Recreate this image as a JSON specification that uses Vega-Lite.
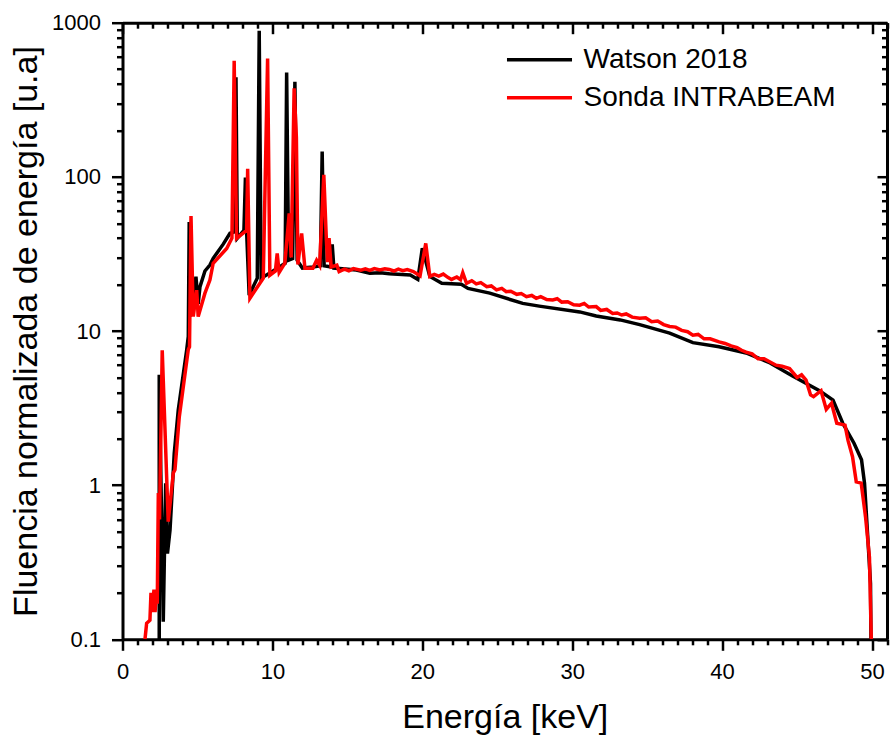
{
  "$schema": "https://vega.github.io/schema/vega-lite/v6.json",
  "autosize": "none",
  "width": 764.5,
  "height": 616.6,
  "padding": {"left": 122.5, "top": 22.7, "right": 6, "bottom": 100.7},
  "background": "white",
  "config": {
    "font": "Liberation Sans",
    "view": {"stroke": null},
    "axis": {
      "grid": false,
      "domainColor": "black",
      "domainWidth": 3,
      "tickColor": "black",
      "tickWidth": 2.5,
      "labelColor": "black",
      "labelFontSize": 22,
      "labelFont": "Liberation Sans",
      "titleFont": "Liberation Sans",
      "titleFontSize": 34,
      "titleFontWeight": "normal",
      "titleColor": "black"
    }
  },
  "datasets": {
    "spec": [
      {"e": 2.45, "f": 0.1, "s": "Watson 2018"},
      {"e": 2.45, "f": 5.2, "s": "Watson 2018"},
      {"e": 2.72, "f": 0.13, "s": "Watson 2018"},
      {"e": 2.88, "f": 1.03, "s": "Watson 2018"},
      {"e": 3.0, "f": 0.36, "s": "Watson 2018"},
      {"e": 3.17, "f": 0.51, "s": "Watson 2018"},
      {"e": 3.45, "f": 1.6, "s": "Watson 2018"},
      {"e": 3.72, "f": 3.07, "s": "Watson 2018"},
      {"e": 4.28, "f": 7.5, "s": "Watson 2018"},
      {"e": 4.39, "f": 9.2, "s": "Watson 2018"},
      {"e": 4.45, "f": 51, "s": "Watson 2018"},
      {"e": 4.5, "f": 12.4, "s": "Watson 2018"},
      {"e": 4.9, "f": 22.5, "s": "Watson 2018"},
      {"e": 5.05, "f": 15, "s": "Watson 2018"},
      {"e": 5.17, "f": 19.4, "s": "Watson 2018"},
      {"e": 5.5, "f": 24.5, "s": "Watson 2018"},
      {"e": 5.83, "f": 26.8, "s": "Watson 2018"},
      {"e": 6.05, "f": 29.6, "s": "Watson 2018"},
      {"e": 6.72, "f": 36.6, "s": "Watson 2018"},
      {"e": 7.17, "f": 43, "s": "Watson 2018"},
      {"e": 7.5, "f": 44, "s": "Watson 2018"},
      {"e": 7.57, "f": 443, "s": "Watson 2018"},
      {"e": 7.66, "f": 40, "s": "Watson 2018"},
      {"e": 8.1, "f": 45, "s": "Watson 2018"},
      {"e": 8.2, "f": 99, "s": "Watson 2018"},
      {"e": 8.28, "f": 44, "s": "Watson 2018"},
      {"e": 8.45, "f": 17.1, "s": "Watson 2018"},
      {"e": 8.99, "f": 22, "s": "Watson 2018"},
      {"e": 9.12, "f": 888, "s": "Watson 2018"},
      {"e": 9.25, "f": 22, "s": "Watson 2018"},
      {"e": 9.83, "f": 23.8, "s": "Watson 2018"},
      {"e": 10.5, "f": 26.1, "s": "Watson 2018"},
      {"e": 10.85, "f": 27.5, "s": "Watson 2018"},
      {"e": 10.95, "f": 475, "s": "Watson 2018"},
      {"e": 11.08, "f": 28.8, "s": "Watson 2018"},
      {"e": 11.35, "f": 29.5, "s": "Watson 2018"},
      {"e": 11.5, "f": 414, "s": "Watson 2018"},
      {"e": 11.65, "f": 28.8, "s": "Watson 2018"},
      {"e": 12.0, "f": 25.6, "s": "Watson 2018"},
      {"e": 12.7, "f": 26, "s": "Watson 2018"},
      {"e": 13.2, "f": 26.5, "s": "Watson 2018"},
      {"e": 13.32, "f": 146, "s": "Watson 2018"},
      {"e": 13.45, "f": 26.5, "s": "Watson 2018"},
      {"e": 13.9, "f": 26, "s": "Watson 2018"},
      {"e": 13.99, "f": 36.5, "s": "Watson 2018"},
      {"e": 14.1, "f": 25.6, "s": "Watson 2018"},
      {"e": 15.6, "f": 24.9, "s": "Watson 2018"},
      {"e": 16.5, "f": 23.7, "s": "Watson 2018"},
      {"e": 17.2, "f": 23.9, "s": "Watson 2018"},
      {"e": 17.8, "f": 23.5, "s": "Watson 2018"},
      {"e": 19.2, "f": 23.1, "s": "Watson 2018"},
      {"e": 19.7, "f": 21.6, "s": "Watson 2018"},
      {"e": 20.0, "f": 34.4, "s": "Watson 2018"},
      {"e": 20.5, "f": 22.6, "s": "Watson 2018"},
      {"e": 21.3, "f": 20.4, "s": "Watson 2018"},
      {"e": 22.6, "f": 20.1, "s": "Watson 2018"},
      {"e": 23.05, "f": 18.9, "s": "Watson 2018"},
      {"e": 24.5, "f": 17.6, "s": "Watson 2018"},
      {"e": 26.7, "f": 15.1, "s": "Watson 2018"},
      {"e": 27.8, "f": 14.5, "s": "Watson 2018"},
      {"e": 30.5, "f": 13.3, "s": "Watson 2018"},
      {"e": 31.6, "f": 12.5, "s": "Watson 2018"},
      {"e": 33.2, "f": 11.8, "s": "Watson 2018"},
      {"e": 34.5, "f": 11.0, "s": "Watson 2018"},
      {"e": 36.5, "f": 9.7, "s": "Watson 2018"},
      {"e": 38.05, "f": 8.4, "s": "Watson 2018"},
      {"e": 39.8, "f": 7.9, "s": "Watson 2018"},
      {"e": 41.6, "f": 7.2, "s": "Watson 2018"},
      {"e": 43.2, "f": 6.2, "s": "Watson 2018"},
      {"e": 44.7, "f": 5.1, "s": "Watson 2018"},
      {"e": 46.5, "f": 4.1, "s": "Watson 2018"},
      {"e": 47.4, "f": 3.56, "s": "Watson 2018"},
      {"e": 48.05, "f": 2.52, "s": "Watson 2018"},
      {"e": 48.8, "f": 1.87, "s": "Watson 2018"},
      {"e": 49.3, "f": 1.46, "s": "Watson 2018"},
      {"e": 49.5, "f": 1.03, "s": "Watson 2018"},
      {"e": 49.7, "f": 0.49, "s": "Watson 2018"},
      {"e": 49.9, "f": 0.23, "s": "Watson 2018"},
      {"e": 49.93, "f": 0.1, "s": "Watson 2018"},

      {"e": 1.5, "f": 0.1, "s": "Sonda INTRABEAM"},
      {"e": 1.61, "f": 0.127, "s": "Sonda INTRABEAM"},
      {"e": 1.83, "f": 0.133, "s": "Sonda INTRABEAM"},
      {"e": 1.9, "f": 0.2, "s": "Sonda INTRABEAM"},
      {"e": 1.97, "f": 0.15, "s": "Sonda INTRABEAM"},
      {"e": 2.1, "f": 0.21, "s": "Sonda INTRABEAM"},
      {"e": 2.17, "f": 0.15, "s": "Sonda INTRABEAM"},
      {"e": 2.28, "f": 0.2, "s": "Sonda INTRABEAM"},
      {"e": 2.32, "f": 0.17, "s": "Sonda INTRABEAM"},
      {"e": 2.39, "f": 0.89, "s": "Sonda INTRABEAM"},
      {"e": 2.47, "f": 0.6, "s": "Sonda INTRABEAM"},
      {"e": 2.65, "f": 7.5, "s": "Sonda INTRABEAM"},
      {"e": 3.05, "f": 0.58, "s": "Sonda INTRABEAM"},
      {"e": 3.39, "f": 1.2, "s": "Sonda INTRABEAM"},
      {"e": 3.5, "f": 1.26, "s": "Sonda INTRABEAM"},
      {"e": 3.79, "f": 2.78, "s": "Sonda INTRABEAM"},
      {"e": 4.39, "f": 7.6, "s": "Sonda INTRABEAM"},
      {"e": 4.47, "f": 7.9, "s": "Sonda INTRABEAM"},
      {"e": 4.57, "f": 55.7, "s": "Sonda INTRABEAM"},
      {"e": 4.72, "f": 12.4, "s": "Sonda INTRABEAM"},
      {"e": 4.95, "f": 18.4, "s": "Sonda INTRABEAM"},
      {"e": 5.05, "f": 12.4, "s": "Sonda INTRABEAM"},
      {"e": 5.5, "f": 17.6, "s": "Sonda INTRABEAM"},
      {"e": 5.83, "f": 21.4, "s": "Sonda INTRABEAM"},
      {"e": 6.05, "f": 27.5, "s": "Sonda INTRABEAM"},
      {"e": 6.95, "f": 34.3, "s": "Sonda INTRABEAM"},
      {"e": 7.3, "f": 40, "s": "Sonda INTRABEAM"},
      {"e": 7.45, "f": 566, "s": "Sonda INTRABEAM"},
      {"e": 7.61, "f": 39.9, "s": "Sonda INTRABEAM"},
      {"e": 8.28, "f": 45, "s": "Sonda INTRABEAM"},
      {"e": 8.35, "f": 113, "s": "Sonda INTRABEAM"},
      {"e": 8.5, "f": 16.3, "s": "Sonda INTRABEAM"},
      {"e": 9.39, "f": 22, "s": "Sonda INTRABEAM"},
      {"e": 9.68, "f": 585, "s": "Sonda INTRABEAM"},
      {"e": 9.83, "f": 23, "s": "Sonda INTRABEAM"},
      {"e": 10.2, "f": 24.5, "s": "Sonda INTRABEAM"},
      {"e": 10.32, "f": 31.9, "s": "Sonda INTRABEAM"},
      {"e": 10.45, "f": 24, "s": "Sonda INTRABEAM"},
      {"e": 10.83, "f": 27.5, "s": "Sonda INTRABEAM"},
      {"e": 11.12, "f": 58, "s": "Sonda INTRABEAM"},
      {"e": 11.25, "f": 30, "s": "Sonda INTRABEAM"},
      {"e": 11.45, "f": 375, "s": "Sonda INTRABEAM"},
      {"e": 11.6, "f": 180, "s": "Sonda INTRABEAM"},
      {"e": 11.7, "f": 27, "s": "Sonda INTRABEAM"},
      {"e": 11.95, "f": 43, "s": "Sonda INTRABEAM"},
      {"e": 12.17, "f": 25.5, "s": "Sonda INTRABEAM"},
      {"e": 12.7, "f": 25.5, "s": "Sonda INTRABEAM"},
      {"e": 12.95, "f": 28.8, "s": "Sonda INTRABEAM"},
      {"e": 13.15, "f": 26.7, "s": "Sonda INTRABEAM"},
      {"e": 13.43, "f": 103, "s": "Sonda INTRABEAM"},
      {"e": 13.6, "f": 39, "s": "Sonda INTRABEAM"},
      {"e": 13.68, "f": 28, "s": "Sonda INTRABEAM"},
      {"e": 13.78, "f": 40, "s": "Sonda INTRABEAM"},
      {"e": 13.92, "f": 26, "s": "Sonda INTRABEAM"},
      {"e": 14.3, "f": 26.7, "s": "Sonda INTRABEAM"},
      {"e": 14.45, "f": 24.3, "s": "Sonda INTRABEAM"},
      {"e": 14.8, "f": 25.2, "s": "Sonda INTRABEAM"},
      {"e": 15.1, "f": 24.6, "s": "Sonda INTRABEAM"},
      {"e": 15.4, "f": 25.4, "s": "Sonda INTRABEAM"},
      {"e": 15.9, "f": 24.8, "s": "Sonda INTRABEAM"},
      {"e": 16.2, "f": 25.3, "s": "Sonda INTRABEAM"},
      {"e": 16.5, "f": 24.7, "s": "Sonda INTRABEAM"},
      {"e": 16.8, "f": 25.4, "s": "Sonda INTRABEAM"},
      {"e": 17.17, "f": 24.9, "s": "Sonda INTRABEAM"},
      {"e": 17.5, "f": 25.3, "s": "Sonda INTRABEAM"},
      {"e": 17.8, "f": 25.1, "s": "Sonda INTRABEAM"},
      {"e": 18.1, "f": 24.5, "s": "Sonda INTRABEAM"},
      {"e": 18.4, "f": 25.2, "s": "Sonda INTRABEAM"},
      {"e": 18.7, "f": 24.6, "s": "Sonda INTRABEAM"},
      {"e": 19.0, "f": 25.0, "s": "Sonda INTRABEAM"},
      {"e": 19.4, "f": 24.3, "s": "Sonda INTRABEAM"},
      {"e": 19.85, "f": 22.8, "s": "Sonda INTRABEAM"},
      {"e": 20.23, "f": 37, "s": "Sonda INTRABEAM"},
      {"e": 20.5, "f": 22.6, "s": "Sonda INTRABEAM"},
      {"e": 20.8, "f": 23.3, "s": "Sonda INTRABEAM"},
      {"e": 21.1, "f": 22.7, "s": "Sonda INTRABEAM"},
      {"e": 21.4, "f": 23.4, "s": "Sonda INTRABEAM"},
      {"e": 21.7, "f": 22.3, "s": "Sonda INTRABEAM"},
      {"e": 21.95, "f": 21.6, "s": "Sonda INTRABEAM"},
      {"e": 22.3, "f": 22.4, "s": "Sonda INTRABEAM"},
      {"e": 22.55, "f": 21.5, "s": "Sonda INTRABEAM"},
      {"e": 22.7, "f": 23.9, "s": "Sonda INTRABEAM"},
      {"e": 22.95, "f": 20.4, "s": "Sonda INTRABEAM"},
      {"e": 23.3, "f": 21.2, "s": "Sonda INTRABEAM"},
      {"e": 23.6, "f": 20.2, "s": "Sonda INTRABEAM"},
      {"e": 23.9, "f": 20.6, "s": "Sonda INTRABEAM"},
      {"e": 24.3, "f": 19.4, "s": "Sonda INTRABEAM"},
      {"e": 24.6, "f": 19.6, "s": "Sonda INTRABEAM"},
      {"e": 24.95, "f": 18.5, "s": "Sonda INTRABEAM"},
      {"e": 25.3, "f": 18.9, "s": "Sonda INTRABEAM"},
      {"e": 25.6, "f": 18.0, "s": "Sonda INTRABEAM"},
      {"e": 25.9, "f": 18.1, "s": "Sonda INTRABEAM"},
      {"e": 26.3, "f": 17.3, "s": "Sonda INTRABEAM"},
      {"e": 26.6, "f": 17.5, "s": "Sonda INTRABEAM"},
      {"e": 26.95, "f": 16.7, "s": "Sonda INTRABEAM"},
      {"e": 27.3, "f": 17.0, "s": "Sonda INTRABEAM"},
      {"e": 27.6, "f": 16.3, "s": "Sonda INTRABEAM"},
      {"e": 27.9, "f": 16.7, "s": "Sonda INTRABEAM"},
      {"e": 28.3, "f": 16.0, "s": "Sonda INTRABEAM"},
      {"e": 28.7, "f": 15.9, "s": "Sonda INTRABEAM"},
      {"e": 29.0, "f": 16.2, "s": "Sonda INTRABEAM"},
      {"e": 29.3, "f": 15.4, "s": "Sonda INTRABEAM"},
      {"e": 29.7, "f": 15.5, "s": "Sonda INTRABEAM"},
      {"e": 30.1, "f": 14.8, "s": "Sonda INTRABEAM"},
      {"e": 30.5, "f": 14.7, "s": "Sonda INTRABEAM"},
      {"e": 30.8, "f": 15.1, "s": "Sonda INTRABEAM"},
      {"e": 31.1, "f": 14.3, "s": "Sonda INTRABEAM"},
      {"e": 31.6, "f": 14.4, "s": "Sonda INTRABEAM"},
      {"e": 31.9, "f": 13.6, "s": "Sonda INTRABEAM"},
      {"e": 32.3, "f": 13.8, "s": "Sonda INTRABEAM"},
      {"e": 32.7, "f": 13.0, "s": "Sonda INTRABEAM"},
      {"e": 33.0, "f": 13.1, "s": "Sonda INTRABEAM"},
      {"e": 33.3, "f": 12.7, "s": "Sonda INTRABEAM"},
      {"e": 33.6, "f": 12.9, "s": "Sonda INTRABEAM"},
      {"e": 34.0, "f": 12.3, "s": "Sonda INTRABEAM"},
      {"e": 34.5, "f": 12.1, "s": "Sonda INTRABEAM"},
      {"e": 34.9, "f": 12.2, "s": "Sonda INTRABEAM"},
      {"e": 35.3, "f": 11.5, "s": "Sonda INTRABEAM"},
      {"e": 35.7, "f": 11.6, "s": "Sonda INTRABEAM"},
      {"e": 36.1, "f": 11.0, "s": "Sonda INTRABEAM"},
      {"e": 36.5, "f": 10.7, "s": "Sonda INTRABEAM"},
      {"e": 36.9, "f": 10.6, "s": "Sonda INTRABEAM"},
      {"e": 37.3, "f": 10.1, "s": "Sonda INTRABEAM"},
      {"e": 37.7, "f": 9.9, "s": "Sonda INTRABEAM"},
      {"e": 38.05, "f": 9.4, "s": "Sonda INTRABEAM"},
      {"e": 38.4, "f": 9.5, "s": "Sonda INTRABEAM"},
      {"e": 38.8, "f": 8.9, "s": "Sonda INTRABEAM"},
      {"e": 39.2, "f": 8.9, "s": "Sonda INTRABEAM"},
      {"e": 39.8, "f": 8.5, "s": "Sonda INTRABEAM"},
      {"e": 40.2, "f": 8.3, "s": "Sonda INTRABEAM"},
      {"e": 40.6, "f": 8.0, "s": "Sonda INTRABEAM"},
      {"e": 41.0, "f": 7.8, "s": "Sonda INTRABEAM"},
      {"e": 41.3, "f": 7.5, "s": "Sonda INTRABEAM"},
      {"e": 41.6, "f": 7.3, "s": "Sonda INTRABEAM"},
      {"e": 42.0, "f": 7.1, "s": "Sonda INTRABEAM"},
      {"e": 42.4, "f": 6.6, "s": "Sonda INTRABEAM"},
      {"e": 42.8, "f": 6.6, "s": "Sonda INTRABEAM"},
      {"e": 43.2, "f": 6.3, "s": "Sonda INTRABEAM"},
      {"e": 43.6, "f": 6.0, "s": "Sonda INTRABEAM"},
      {"e": 44.0, "f": 5.9, "s": "Sonda INTRABEAM"},
      {"e": 44.5, "f": 5.7, "s": "Sonda INTRABEAM"},
      {"e": 45.0, "f": 5.0, "s": "Sonda INTRABEAM"},
      {"e": 45.3, "f": 5.2, "s": "Sonda INTRABEAM"},
      {"e": 45.6, "f": 4.8, "s": "Sonda INTRABEAM"},
      {"e": 45.9, "f": 3.85, "s": "Sonda INTRABEAM"},
      {"e": 46.1, "f": 3.75, "s": "Sonda INTRABEAM"},
      {"e": 46.6, "f": 4.1, "s": "Sonda INTRABEAM"},
      {"e": 46.95, "f": 3.1, "s": "Sonda INTRABEAM"},
      {"e": 47.3, "f": 3.4, "s": "Sonda INTRABEAM"},
      {"e": 47.65, "f": 2.52, "s": "Sonda INTRABEAM"},
      {"e": 48.2, "f": 2.45, "s": "Sonda INTRABEAM"},
      {"e": 48.4, "f": 1.95, "s": "Sonda INTRABEAM"},
      {"e": 48.7, "f": 1.53, "s": "Sonda INTRABEAM"},
      {"e": 48.95, "f": 1.05, "s": "Sonda INTRABEAM"},
      {"e": 49.28, "f": 1.03, "s": "Sonda INTRABEAM"},
      {"e": 49.57, "f": 0.62, "s": "Sonda INTRABEAM"},
      {"e": 49.83, "f": 0.34, "s": "Sonda INTRABEAM"},
      {"e": 49.95, "f": 0.1, "s": "Sonda INTRABEAM"}
    ]
  },
  "data": {"name": "spec"},
  "layer": [
    {
      "transform": [{"filter": "datum.s == 'Watson 2018'"}],
      "mark": {"type": "line", "strokeWidth": 3.5, "strokeJoin": "miter", "clip": true},
      "encoding": {
        "x": {
          "field": "e", "type": "quantitative",
          "scale": {"domain": [0, 51], "nice": false, "zero": false},
          "axis": {
            "orient": "bottom", "values": [0, 10, 20, 30, 40, 50],
            "tickSize": 11, "labelPadding": 11, "title": "Energía [keV]",
            "titlePadding": 18, "labelFlush": false, "labelOverlap": false
          }
        },
        "y": {
          "field": "f", "type": "quantitative",
          "scale": {"type": "log", "domain": [0.1, 1000], "nice": false},
          "axis": {
            "orient": "left", "values": [0.1, 1, 10, 100, 1000],
            "labelExpr": "format(datum.value, '~g')",
            "tickSize": 11, "labelPadding": 11,
            "title": "Fluencia normalizada de energía [u.a]",
            "titlePadding": 8, "labelFlush": false, "labelOverlap": false
          }
        },
        "color": {
          "field": "s", "type": "nominal",
          "scale": {"domain": ["Watson 2018", "Sonda INTRABEAM"], "range": ["#000000", "#ff0000"]},
          "legend": {
            "orient": "none", "legendX": 403, "legendY": 23, "title": null,
            "symbolType": "M-3,0H3", "symbolSize": 470, "symbolStrokeWidth": 3.5,
            "symbolFillColor": "transparent",
            "labelFontSize": 28, "labelOffset": 30, "rowPadding": 10,
            "labelColor": "black", "labelLimit": 500, "labelFont": "Liberation Sans"
          }
        }
      }
    },
    {
      "transform": [{"filter": "datum.s == 'Sonda INTRABEAM'"}],
      "mark": {"type": "line", "strokeWidth": 3.5, "strokeJoin": "miter", "clip": true},
      "encoding": {
        "x": {"field": "e", "type": "quantitative", "axis": null},
        "y": {"field": "f", "type": "quantitative", "axis": null},
        "color": {"field": "s", "type": "nominal"}
      }
    },
    {
      "mark": {"type": "point", "opacity": 0},
      "encoding": {
        "x": {
          "field": "e", "type": "quantitative",
          "axis": {
            "orient": "bottom",
            "values": [1,2,3,4,5,6,7,8,9,11,12,13,14,15,16,17,18,19,21,22,23,24,25,26,27,28,29,31,32,33,34,35,36,37,38,39,41,42,43,44,45,46,47,48,49,51],
            "tickSize": 5.5, "labels": false, "domain": false, "title": null
          }
        },
        "y": {
          "field": "f", "type": "quantitative",
          "axis": {
            "orient": "left",
            "values": [0.2,0.3,0.4,0.5,0.6,0.7,0.8,0.9,2,3,4,5,6,7,8,9,20,30,40,50,60,70,80,90,200,300,400,500,600,700,800,900],
            "tickSize": 6, "labels": false, "domain": false, "title": null
          }
        }
      }
    },
    {
      "mark": {"type": "point", "opacity": 0},
      "encoding": {
        "x": {
          "field": "e", "type": "quantitative",
          "axis": {
            "orient": "top", "values": [0, 10, 20, 30, 40, 50],
            "tickSize": -11, "labels": false, "title": null
          }
        },
        "y": {
          "field": "f", "type": "quantitative",
          "axis": {
            "orient": "right", "values": [0.1, 1, 10, 100, 1000],
            "tickSize": -10, "labels": false, "title": null
          }
        }
      }
    },
    {
      "mark": {"type": "point", "opacity": 0},
      "encoding": {
        "x": {
          "field": "e", "type": "quantitative",
          "axis": {
            "orient": "top",
            "values": [1,2,3,4,5,6,7,8,9,11,12,13,14,15,16,17,18,19,21,22,23,24,25,26,27,28,29,31,32,33,34,35,36,37,38,39,41,42,43,44,45,46,47,48,49,51],
            "tickSize": -5.5, "labels": false, "domain": false, "title": null
          }
        },
        "y": {
          "field": "f", "type": "quantitative",
          "axis": {
            "orient": "right",
            "values": [0.2,0.3,0.4,0.5,0.6,0.7,0.8,0.9,2,3,4,5,6,7,8,9,20,30,40,50,60,70,80,90,200,300,400,500,600,700,800,900],
            "tickSize": -5.5, "labels": false, "domain": false, "title": null
          }
        }
      }
    }
  ],
  "resolve": {"axis": {"x": "independent", "y": "independent"}}
}
